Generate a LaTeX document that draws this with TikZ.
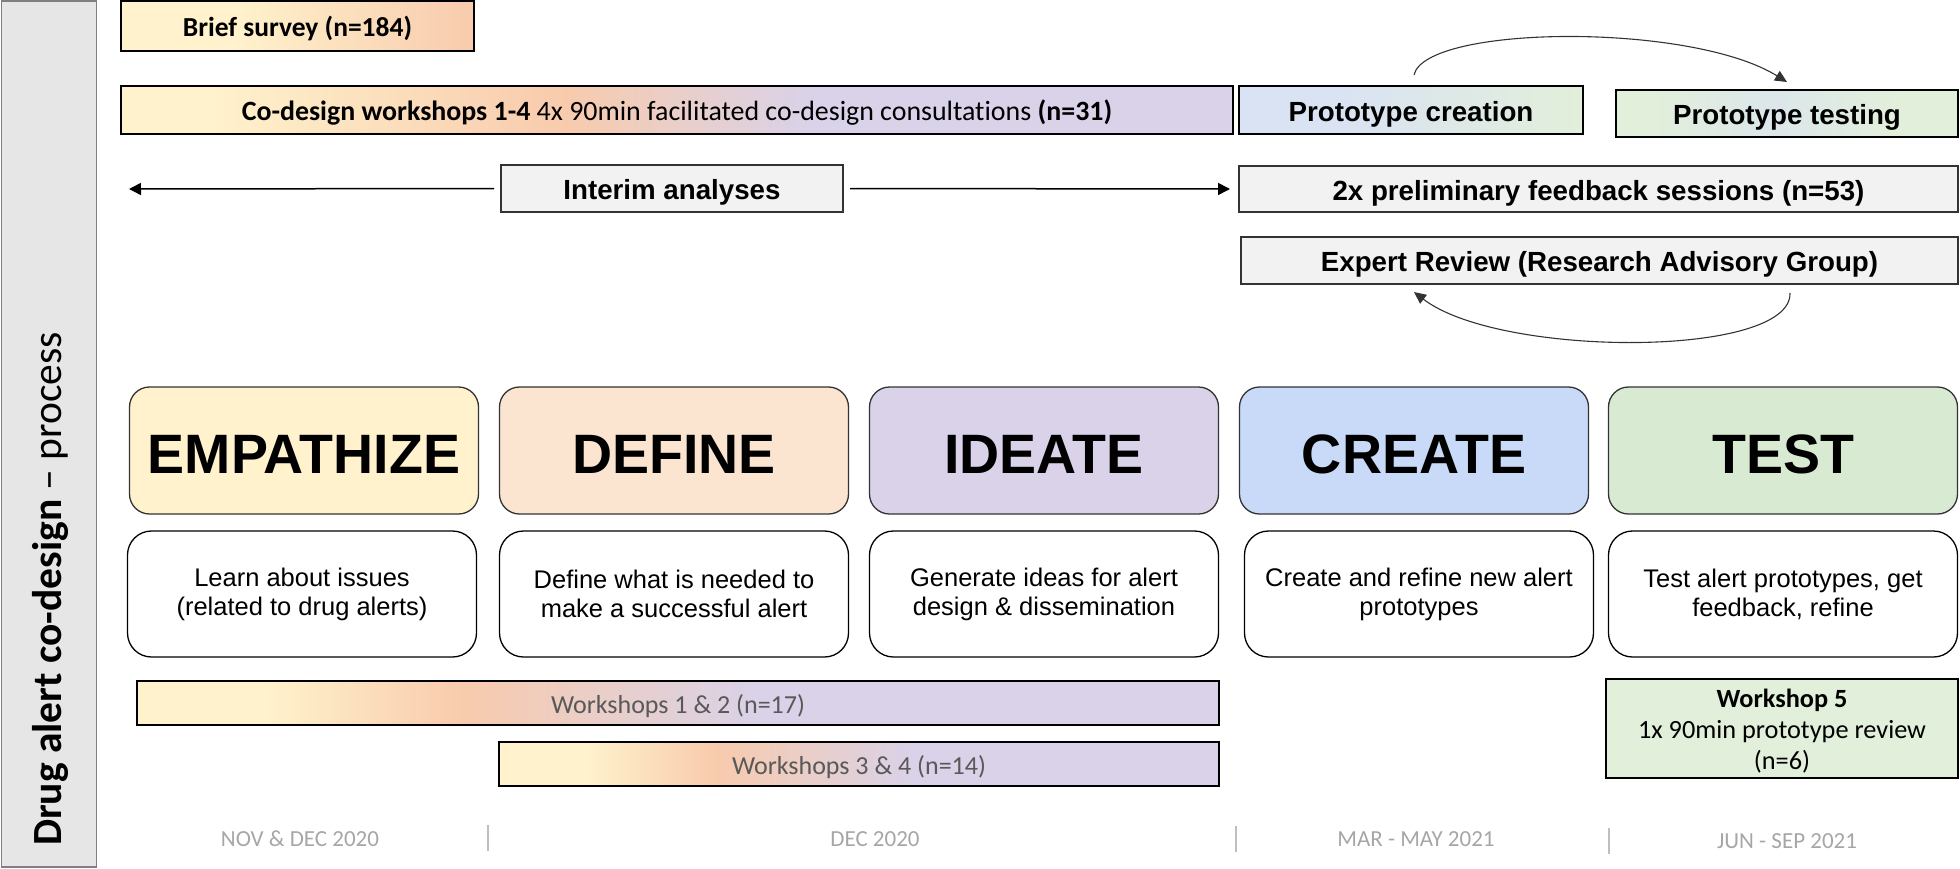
\documentclass[tikz,border=0pt]{standalone}
\usepackage{fontspec}
\setmainfont{Liberation Sans}
\newfontfamily\carl[Ligatures=NoCommon]{Carlito}
\usetikzlibrary{arrows.meta}
\definecolor{cyel}{HTML}{FFF2CC}
\definecolor{cpeach}{HTML}{F8CBAD}
\definecolor{clav}{HTML}{D9D2E9}
\definecolor{cdef}{HTML}{FBE5D0}
\definecolor{ccre}{HTML}{C9DAF8}
\definecolor{ctst}{HTML}{D9EAD3}
\definecolor{cpblue}{HTML}{DAE3F3}
\definecolor{cpgreen}{HTML}{E2EFDA}
\definecolor{cgrayfill}{HTML}{F2F2F2}
\definecolor{cbar}{HTML}{E6E6E6}
\definecolor{cwtext}{HTML}{595959}
\definecolor{cdate}{HTML}{A6A6A6}
\pgfdeclarehorizontalshading{briefshade}{100bp}{color(0bp)=(cyel); color(41bp)=(cyel); color(75bp)=(cpeach); color(100bp)=(cpeach)}
\pgfdeclarehorizontalshading{codshade}{100bp}{color(0bp)=(cyel); color(29bp)=(cyel); color(45bp)=(cpeach); color(56bp)=(clav); color(100bp)=(clav)}
\pgfdeclarehorizontalshading{wsshade}{100bp}{color(0bp)=(cyel); color(31bp)=(cyel); color(40bp)=(cpeach); color(54bp)=(clav); color(100bp)=(clav)}
\pgfdeclarehorizontalshading{pcshade}{100bp}{color(0bp)=(cpblue); color(40bp)=(cpblue); color(75bp)=(cpgreen); color(100bp)=(cpgreen)}
\pgfdeclarehorizontalshading{ptshade}{100bp}{color(0bp)=(cpgreen); color(30bp)=(cpgreen); color(48bp)=(cpblue!70!cpgreen); color(66bp)=(cpgreen); color(100bp)=(cpgreen)}
\tikzset{
  bxbase/.style={draw=black, line width=2pt, inner sep=0pt, outer sep=0pt, anchor=center, align=center},
  bx/.style={bxbase, text height=28.5pt, text depth=6.1pt},
  bxc/.style={bxbase, text height=26.4pt, text depth=6pt},
  graybox/.style={bx, draw=black!80, fill=cgrayfill, font=\fontsize{27.7}{32}\selectfont\bfseries},
  phase/.style={draw=black!80, line width=1.3pt, rounded corners=20pt, inner sep=0pt, outer sep=0pt, minimum width=349pt, minimum height=127pt, text height=45pt, text depth=0pt, font=\fontsize{55.5}{60}\selectfont\bfseries},
  desc/.style={draw=black, line width=1.3pt, rounded corners=24pt, fill=white, inner sep=0pt, outer sep=0pt, minimum width=349pt, minimum height=126pt, align=center, font=\fontsize{25.5}{29}\selectfont},
  wsbar/.style={bxbase, text height=26.3pt, text depth=5.7pt, shade, shading=wsshade, minimum height=44pt, font=\carl\fontsize{26}{30}\selectfont, text=cwtext},
  datelbl/.style={font=\carl\fontsize{23}{26}\selectfont, text=cdate, inner sep=0pt},
  sepline/.style={draw=black!25, line width=1.5pt},
  arr/.style={line width=1.5pt, -{Triangle[length=12pt,width=12pt]}},
  arc/.style={draw=black!80, line width=1.1pt, -{Triangle[length=12pt,width=11pt]}}
}
\begin{document}
\begin{tikzpicture}[x=1pt,y=-1pt]
\useasboundingbox (0,0) rectangle (1960,868);
% left title bar
\node[draw=black!50, fill=cbar, line width=1.5pt, minimum width=95pt, minimum height=866pt, inner sep=0pt, anchor=center] (titlebar) at (49,434) {};
\node[rotate=90, inner sep=0pt] (title) at (50,589) {\carl\fontsize{41.5}{48}\selectfont\textbf{Drug alert co-design} – process};
% top row
\node[bxc, shade, shading=briefshade, minimum width=353pt, minimum height=50pt, font=\carl\fontsize{27.5}{32}\selectfont\bfseries] (brief) at (297.5,26) {Brief survey (n=184)};
\node[bxc, shade, shading=codshade, minimum width=1112pt, minimum height=48pt, font=\carl\fontsize{27.9}{32}\selectfont] (codesign) at (677,110) {\textbf{Co-design workshops 1-4} 4x 90min facilitated co-design consultations \textbf{(n=31)}};
\node[bx, shade, shading=pcshade, minimum width=344pt, minimum height=48pt, font=\fontsize{27.7}{32}\selectfont\bfseries] (pcreate) at (1411,110) {Prototype creation};
\node[bx, shade, shading=ptshade, minimum width=342pt, minimum height=47pt, font=\fontsize{27.7}{32}\selectfont\bfseries] (ptest) at (1787,113.5) {Prototype testing};
\node[graybox, minimum width=342pt, minimum height=47pt] (interim) at (672,188.5) {Interim analyses};
\node[graybox, minimum width=719pt, minimum height=46pt] (prelim) at (1598.5,189) {2x preliminary feedback sessions (n=53)};
\node[graybox, minimum width=717pt, minimum height=47pt] (expert) at (1599.5,260.5) {Expert Review (Research Advisory Group)};
\coordinate (leftend) at (129,189);
\draw[arr] ([xshift=-7pt]interim.west) -- (leftend);
\draw[arr] ([xshift=7pt]interim.east) -- ([xshift=-9pt]prelim.west);
% arcs
\coordinate (arcAstart) at (1414,75);
\coordinate (arcAend) at (1787,82);
\draw[arc] (arcAstart) .. controls (1425,25) and (1690,22) .. (arcAend);
\coordinate (arcBstart) at (1790,293);
\coordinate (arcBend) at (1414,292);
\draw[arc] (arcBstart) .. controls (1792,358) and (1500,358) .. (arcBend);
% phases
\node[phase, fill=cyel] (emp) at (304,450.5) {EMPATHIZE};
\node[phase, fill=cdef] (def) at (674,450.5) {DEFINE};
\node[phase, fill=clav] (ide) at (1044,450.5) {IDEATE};
\node[phase, fill=ccre] (cre) at (1414,450.5) {CREATE};
\node[phase, fill=ctst] (tst) at (1783,450.5) {TEST};
% descriptions
\node[desc] (empd) at (302,594) {Learn about issues\\(related to drug alerts)};
\node[desc] (defd) at (674,594) {Define what is needed to\\make a successful alert};
\node[desc] (ided) at (1044,594) {Generate ideas for alert\\design \& dissemination};
\node[desc] (cred) at (1419,594) {Create and refine new alert\\prototypes};
\node[desc] (tstd) at (1783,594) {Test alert prototypes, get\\feedback, refine};
% workshop bars
\node[wsbar, minimum width=1082pt] (ws12) at (678,703) {Workshops 1 \& 2 (n=17)};
\node[wsbar, minimum width=720pt] (ws34) at (859,764) {Workshops 3 \& 4 (n=14)};
\node[bxbase, fill=cpgreen, minimum width=352pt, minimum height=99pt] (ws5) at (1782,728.5) {};
\node[align=center, inner sep=0pt, font=\carl\fontsize{26.3}{31}\selectfont] (ws5text) at ([yshift=-3pt]ws5.center) {\textbf{Workshop 5}\\1x 90min prototype review\\(n=6)};
% dates
\node[datelbl] (d1) at (300,839) {NOV \& DEC 2020};
\node[datelbl] (d2) at (875,839) {DEC 2020};
\node[datelbl] (d3) at (1416,839) {MAR - MAY 2021};
\node[datelbl] (d4) at (1787,841) {JUN - SEP 2021};
\coordinate (s1a) at (488,825); \coordinate (s1b) at (488,851);
\coordinate (s2a) at (1236,826); \coordinate (s2b) at (1236,852);
\coordinate (s3a) at (1609,828); \coordinate (s3b) at (1609,854);
\draw[sepline] (s1a) -- (s1b);
\draw[sepline] (s2a) -- (s2b);
\draw[sepline] (s3a) -- (s3b);
\end{tikzpicture}
\end{document}
